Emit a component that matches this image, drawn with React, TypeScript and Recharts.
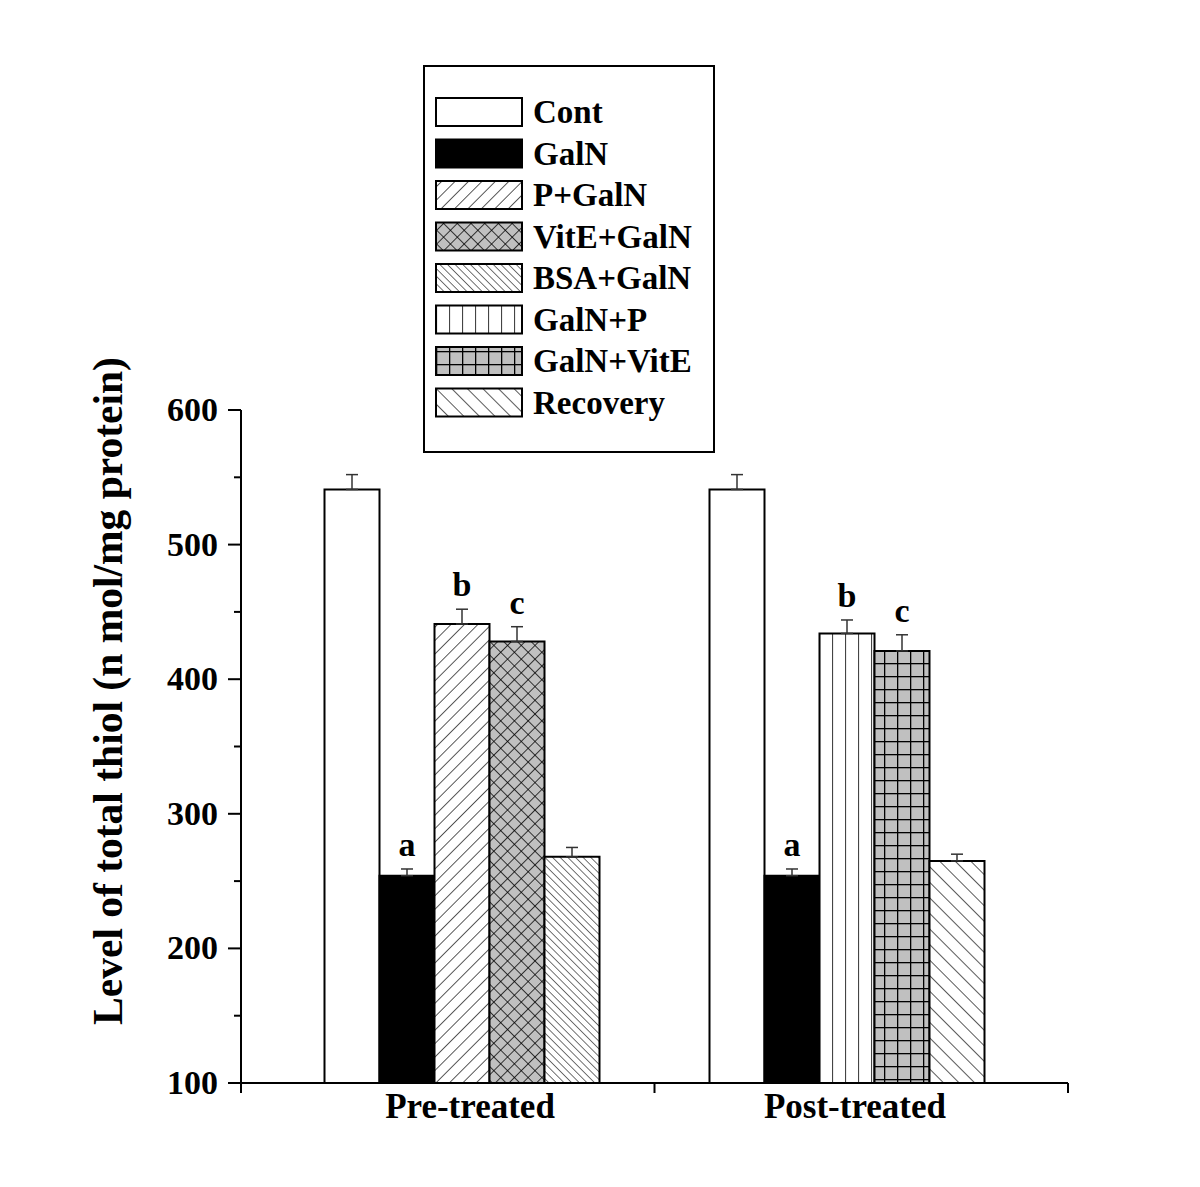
import React from 'react';
import { BarChart, Bar, XAxis, YAxis, ErrorBar, Cell, LabelList, Legend } from 'recharts';

const GROUPS = ['Pre-treated', 'Post-treated'];
const LEGEND_NAMES = ['Cont', 'GalN', 'P+GalN', 'VitE+GalN', 'BSA+GalN', 'GalN+P', 'GalN+VitE', 'Recovery'];

// values per bar slot: [pre-treated, post-treated]
const CONT = [541, 541];
const CONT_ERR = [11, 11];
const GALN = [254, 254];
const GALN_ERR = [5, 5];
const PEP = [441, 434]; // P+GalN / GalN+P
const PEP_ERR = [11, 10];
const VITE = [428, 421]; // VitE+GalN / GalN+VitE
const VITE_ERR = [11, 12];
const LAST = [268, 265]; // BSA+GalN / Recovery
const LAST_ERR = [7, 5];

const Y_TICKS = [100, 150, 200, 250, 300, 350, 400, 450, 500, 550, 600];

const SLOTS = [
  { key: 'cont', values: CONT, errs: CONT_ERR, fills: ['#ffffff', '#ffffff'], sig: '' },
  { key: 'galn', values: GALN, errs: GALN_ERR, fills: ['#000000', '#000000'], sig: 'a' },
  { key: 'pep', values: PEP, errs: PEP_ERR, fills: ['url(#fwd)', 'url(#vert)'], sig: 'b' },
  { key: 'vite', values: VITE, errs: VITE_ERR, fills: ['url(#cross)', 'url(#grid)'], sig: 'c' },
  { key: 'last', values: LAST, errs: LAST_ERR, fills: ['url(#backDense)', 'url(#backSparse)'], sig: '' },
];

const LEGEND_FILLS = ['#ffffff', '#000000', 'url(#lg-fwd)', 'url(#lg-cross)', 'url(#lg-backDense)', 'url(#lg-vert)', 'url(#lg-grid)', 'url(#lg-backSparse)'];

const data = GROUPS.map((group, i) => {
  const row: any = { group };
  SLOTS.forEach((s) => {
    row[s.key] = s.values[i];
    row[s.key + 'Err'] = [0, s.errs[i]];
  });
  return row;
});

const W = 1200;
const H = 1187;
const MARGIN = { top: 410, right: 132, bottom: 44, left: 0 };
const X_AXIS_H = 60;
const Y_AXIS_W = 241;
const X_PAD = 28.5;
const PLOT_H = H - MARGIN.top - MARGIN.bottom - X_AXIS_H;
const PX_PER_UNIT = PLOT_H / 500;
const BAND = (W - MARGIN.left - MARGIN.right - Y_AXIS_W - 2 * X_PAD) / GROUPS.length;

const FONT = "'Liberation Serif', 'Times New Roman', serif";
const textStyle = { fontFamily: FONT, fontWeight: 700, fill: '#000' } as const;

const Patterns = ({ prefix = '' }: { prefix?: string }) => (
  <defs>
    <pattern id={prefix + 'fwd'} width={9.5} height={9.5} patternUnits="userSpaceOnUse" patternTransform="rotate(45)">
      <rect width={9.5} height={9.5} fill="#fff" />
      <line x1={0} y1={0} x2={0} y2={9.5} stroke="#000" strokeWidth={1.3} />
    </pattern>
    <pattern id={prefix + 'backDense'} width={5.4} height={5.4} patternUnits="userSpaceOnUse" patternTransform="rotate(-45)">
      <rect width={5.4} height={5.4} fill="#fff" />
      <line x1={0} y1={0} x2={0} y2={5.4} stroke="#000" strokeWidth={1.1} />
    </pattern>
    <pattern id={prefix + 'backSparse'} width={11} height={11} patternUnits="userSpaceOnUse" patternTransform="rotate(-45)">
      <rect width={11} height={11} fill="#fff" />
      <line x1={0} y1={0} x2={0} y2={11} stroke="#000" strokeWidth={1.3} />
    </pattern>
    <pattern id={prefix + 'cross'} width={9.7} height={9.7} patternUnits="userSpaceOnUse" patternTransform="rotate(45)">
      <rect width={9.7} height={9.7} fill="#c0c0c0" />
      <line x1={0} y1={0} x2={0} y2={9.7} stroke="#000" strokeWidth={1.5} />
      <line x1={0} y1={0} x2={9.7} y2={0} stroke="#000" strokeWidth={1.5} />
    </pattern>
    <pattern id={prefix + 'vert'} width={13} height={13} patternUnits="userSpaceOnUse">
      <rect width={13} height={13} fill="#fff" />
      <line x1={0.5} y1={0} x2={0.5} y2={13} stroke="#444" strokeWidth={1.2} />
    </pattern>
    <pattern id={prefix + 'grid'} width={13} height={13} patternUnits="userSpaceOnUse">
      <rect width={13} height={13} fill="#c0c0c0" />
      <line x1={0.5} y1={0} x2={0.5} y2={13} stroke="#000" strokeWidth={1.6} />
      <line x1={0} y1={0.5} x2={13} y2={0.5} stroke="#000" strokeWidth={1.6} />
    </pattern>
  </defs>
);

const YTick = (props: any) => {
  const { x, y, payload } = props;
  const major = payload.value % 100 === 0;
  return (
    <g>
      <line x1={x - (major ? 13 : 7)} x2={x} y1={y} y2={y} stroke="#000" strokeWidth={2} />
      {major && (
        <text x={x - 23} y={y + 11} textAnchor="end" style={{ ...textStyle, fontSize: 34 }}>
          {payload.value}
        </text>
      )}
    </g>
  );
};

const XTick = (props: any) => {
  const { x, y, payload, index } = props;
  const marks = index === 0 ? [x - BAND / 2 - X_PAD, x + BAND / 2] : [x + BAND / 2 + X_PAD];
  return (
    <g>
      {marks.map((mx, i) => (
        <line key={i} x1={mx} x2={mx} y1={y} y2={y + 10} stroke="#000" strokeWidth={2} />
      ))}
      <text x={x + 8} y={y + 35} textAnchor="middle" style={{ ...textStyle, fontSize: 35 }}>
        {payload.value}
      </text>
    </g>
  );
};

const YTitle = () => (
  <text transform="translate(122,691) rotate(-90)" textAnchor="middle" style={{ ...textStyle, fontSize: 41.5 }}>
    Level of total thiol (n mol/mg protein)
  </text>
);

const sigLabel = (sig: string) => (props: any) => {
  const { x, y, width, value } = props;
  const top = y - Number(value) * PX_PER_UNIT;
  return (
    <text x={x + width / 2} y={top - 13} textAnchor="middle" style={{ ...textStyle, fontSize: 34 }}>
      {sig}
    </text>
  );
};

const renderLegend = () => (
  <svg width={292} height={388} style={{ display: 'block' }}>
    <Patterns prefix="lg-" />
    <rect x={1} y={1} width={290} height={386} fill="#fff" stroke="#000" strokeWidth={2} />
    {LEGEND_NAMES.map((name, i) => {
      const top = 33 + 41.5 * i;
      return (
        <g key={name}>
          <rect x={13} y={top} width={86} height={28} fill={LEGEND_FILLS[i]} stroke="#000" strokeWidth={2} />
          <text x={110} y={top + 25} style={{ ...textStyle, fontSize: 33 }}>
            {name}
          </text>
        </g>
      );
    })}
  </svg>
);

export default function App() {
  return (
    <div style={{ position: 'absolute', left: 0, top: 0, width: W, height: H, background: '#fff' }}>
      <BarChart width={W} height={H} data={data} margin={MARGIN} barCategoryGap={55} barGap={0}>
        <Patterns />
        <XAxis
          dataKey="group"
          height={X_AXIS_H}
          padding={{ left: X_PAD, right: X_PAD }}
          axisLine={{ stroke: '#000', strokeWidth: 2 }}
          tickLine={false}
          tickSize={0}
          tickMargin={0}
          interval={0}
          tick={<XTick />}
        />
        <YAxis
          width={Y_AXIS_W}
          domain={[100, 600]}
          ticks={Y_TICKS}
          interval={0}
          axisLine={{ stroke: '#000', strokeWidth: 2 }}
          tickLine={false}
          tickSize={0}
          tickMargin={0}
          tick={<YTick />}
          label={<YTitle />}
        />
        <Legend
          layout="vertical"
          align="center"
          verticalAlign="middle"
          wrapperStyle={{ left: 423, top: 65, width: 292, height: 388 }}
          content={renderLegend}
        />
        {SLOTS.map((s) => (
          <Bar key={s.key} dataKey={s.key} stroke="#000" strokeWidth={2} isAnimationActive={false}>
            {data.map((_, i) => (
              <Cell key={i} fill={s.fills[i]} />
            ))}
            <ErrorBar dataKey={s.key + 'Err'} width={6} stroke="#333" strokeWidth={1.5} isAnimationActive={false} />
            {s.sig && <LabelList dataKey={(row: any) => row[s.key + 'Err'][1]} content={sigLabel(s.sig)} />}
          </Bar>
        ))}
      </BarChart>
    </div>
  );
}
